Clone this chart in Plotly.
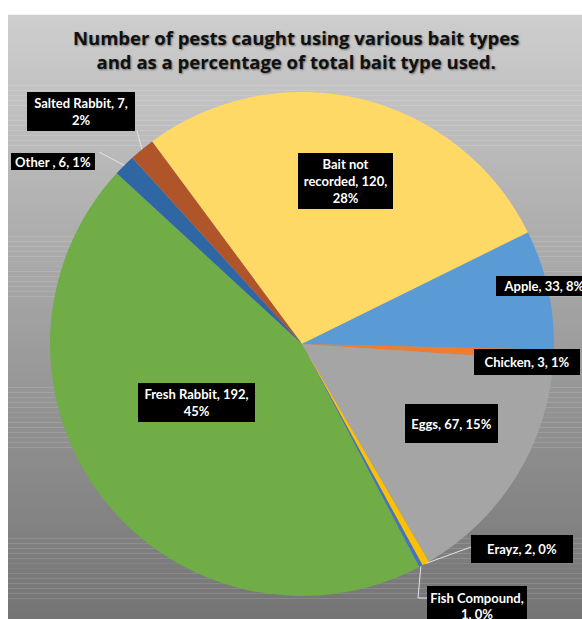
import math
import plotly.graph_objects as go

# ---------------- data ----------------
bait_types = ["Bait not recorded", "Apple", "Chicken", "Eggs", "Erayz",
              "Fish Compound", "Fresh Rabbit", "Other ", "Salted Rabbit"]
pests_caught = [120, 33, 3, 67, 2, 1, 192, 6, 7]
slice_colors = ["#FFD966", "#5B9BD5", "#ED7D31", "#A5A5A5", "#FFC000",
                "#4472C4", "#70AD47", "#2E67A3", "#B0542A"]

title_text = ("Number of pests caught using various bait types<br>"
              "and as a percentage of total bait type used.")

# ---------------- layout helpers (pixels -> paper) ----------------
W, H = 582, 619
def px(x):
    return x / W
def py(y):
    return 1 - y / H

CX, CY, R = 302, 344, 252
ROTATION = -36.5

total = sum(pests_caught)
# percentages rounded so they sum to 100 (largest remainder, as Excel does)
raw = [v / total * 100 for v in pests_caught]
pcts = [math.floor(r) for r in raw]
rest = 100 - sum(pcts)
order = sorted(range(len(raw)), key=lambda i: raw[i] - math.floor(raw[i]), reverse=True)
for i in order[:rest]:
    pcts[i] += 1

# label boxes: (centre x, centre y, width, height, line-breaking)
label_style = {
    "Bait not recorded": dict(cx=345, cy=181, w=95, h=56, brk=["Bait not", "recorded, {v},", "{p}%"]),
    "Apple": dict(cx=544, cy=286, w=96, h=20, brk=["Apple, {v}, {p}%"]),
    "Chicken": dict(cx=527, cy=362, w=106, h=26, brk=["Chicken, {v}, {p}%"]),
    "Eggs": dict(cx=451.5, cy=423.5, w=93, h=39, brk=["Eggs, {v}, {p}%"]),
    "Erayz": dict(cx=522, cy=549, w=102, h=28, brk=["Erayz, {v}, {p}%"]),
    "Fish Compound": dict(cx=477, cy=606, w=100, h=40, brk=["Fish Compound,", "{v}, {p}%"]),
    "Fresh Rabbit": dict(cx=196.5, cy=402.5, w=117, h=39, brk=["Fresh Rabbit, {v},", "{p}%"]),
    "Other ": dict(cx=53, cy=161, w=84, h=17, brk=["Other , {v}, {p}%"]),
    "Salted Rabbit": dict(cx=81, cy=111.5, w=108, h=39, brk=["Salted Rabbit, {v},", "{p}%"]),
}
# leader line end points (label side), slice side computed from data
leaders = {
    "Salted Rabbit": [(137, 131)],
    "Other ": [(99, 152)],
    "Erayz": [(471, 547)],
    "Fish Compound": [(418, 598), (427, 598)],
}

fig = go.Figure()

fig.add_trace(go.Pie(
    labels=bait_types,
    values=pests_caught,
    sort=False,
    direction="clockwise",
    rotation=ROTATION,
    marker=dict(colors=slice_colors, line=dict(width=0)),
    textinfo="none",
    hoverinfo="label+value+percent",
    showlegend=False,
    domain=dict(x=[px(CX - R), px(CX + R)], y=[py(CY + R), py(CY - R)]),
))

shapes = []
# background gradient of the chart area
x0, x1, y0, y1 = 8, 582, 15, 619
n = 120
top_c, bot_c = 206, 116
for i in range(n):
    ya = y0 + (y1 - y0) * i / n
    yb = y0 + (y1 - y0) * (i + 1) / n
    t = (i + 0.5) / n
    c = round(top_c + (bot_c - top_c) * t)
    shapes.append(dict(type="rect", xref="paper", yref="paper",
                       x0=px(x0), x1=px(x1), y0=py(yb), y1=py(ya) + 0.0005,
                       fillcolor=f"rgb({c},{c},{c})", line=dict(width=0),
                       layer="below"))

# leader lines
cum = 0
mid_angle = {}
for lab, v in zip(bait_types, pests_caught):
    mid_angle[lab] = ROTATION + (cum + v / 2) / total * 360
    cum += v
for lab, pts in leaders.items():
    a = math.radians(mid_angle[lab])
    sx, sy = CX + R * math.sin(a), CY - R * math.cos(a)
    path_pts = [(sx, sy)] + pts
    d = "M " + " L ".join(f"{px(x):.5f},{py(y):.5f}" for x, y in path_pts)
    shapes.append(dict(type="path", xref="paper", yref="paper", path=d,
                       line=dict(color="#E4E4E4", width=1), layer="above"))

annotations = []
for lab, v, p in zip(bait_types, pests_caught, pcts):
    st = label_style[lab]
    txt = "<br>".join(s.format(v=v, p=p) for s in st["brk"])
    annotations.append(dict(
        x=px(st["cx"]), y=py(st["cy"]), xref="paper", yref="paper",
        xanchor="center", yanchor="middle", showarrow=False,
        text=txt, align="center", valign="middle",
        width=st["w"], height=st["h"], borderpad=0, borderwidth=0,
        bgcolor="black",
        font=dict(family="Lato", size=13, color="white", weight="bold"),
    ))

# title
annotations.append(dict(
    x=px(296), y=py(50), xref="paper", yref="paper",
    xanchor="center", yanchor="middle", showarrow=False,
    text=title_text, align="center",
    font=dict(family="Open Sans", size=18.5, color="#111111", weight="bold",
              shadow="1px 1px 2px rgba(0,0,0,0.45)"),
))

fig.update_layout(
    width=W, height=H,
    margin=dict(l=0, r=0, t=0, b=0),
    paper_bgcolor="white",
    plot_bgcolor="white",
    shapes=shapes,
    annotations=annotations,
)

fig.write_html("out.html")
